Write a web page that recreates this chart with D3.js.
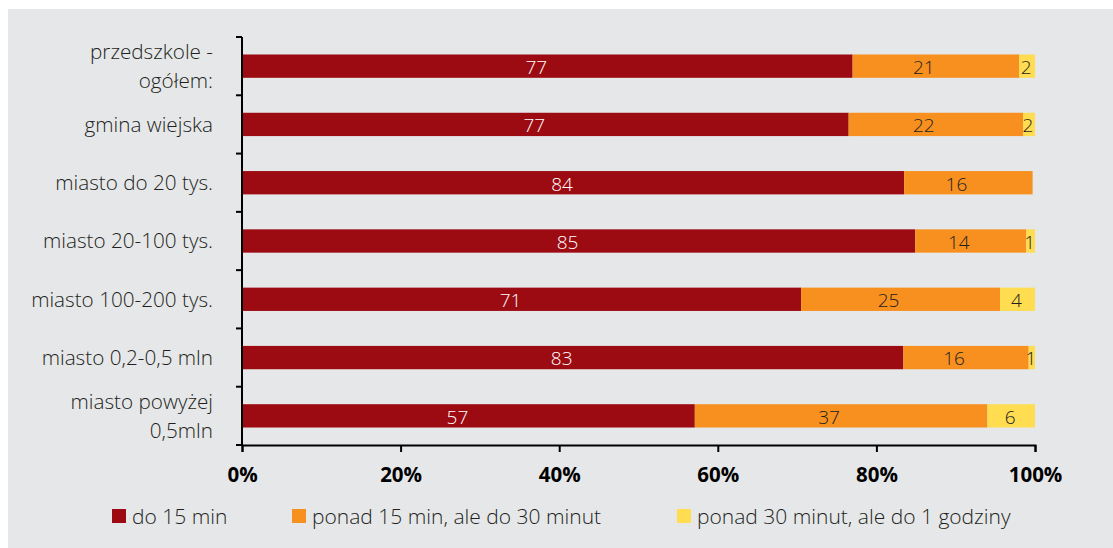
<!DOCTYPE html>
<html><head><meta charset="utf-8">
<script src="https://cdn.jsdelivr.net/npm/d3@7/dist/d3.min.js"></script>
<style>
body{margin:0;background:#fff;}
svg{display:block;font-family:"Open Sans","Noto Sans",sans-serif;}
</style></head>
<body><svg id="c" width="1113" height="548"></svg>
<script>
const categories = [
  ["przedszkole -","ogółem:"],
  ["gmina wiejska"],
  ["miasto do 20 tys."],
  ["miasto 20-100 tys."],
  ["miasto 100-200 tys."],
  ["miasto 0,2-0,5 mln"],
  ["miasto powyżej","0,5mln"]
];
const seriesNames = ["do 15 min","ponad 15 min, ale do 30 minut","ponad 30 minut, ale do 1 godziny"];
const do15 = [77.0, 76.5, 83.5, 84.9, 70.5, 83.4, 57.1];
const do30 = [21.0, 22.0, 16.2, 14.0, 25.1, 15.8, 36.9];
const do60 = [2.0, 1.5, 0, 1.1, 4.4, 0.8, 6.0];
const tickValues = [0, 20, 40, 60, 80, 100];
const colors = ["#9c0a12", "#f7901e", "#ffdc50"];
const labelColors = ["#ffffff", "#231f20", "#231f20"];
const labelShift = [-11, -12, -1];

const svg = d3.select("#c");
svg.append("rect").attr("x",8).attr("y",9).attr("width",1105).attr("height",539).attr("fill","#e6e7e9");

const x = d3.scaleLinear().domain([0,100]).range([242,1035]);
const y = d3.scaleBand().domain(d3.range(categories.length)).range([37,445]).paddingInner(0.6).paddingOuter(0.3);
const yb = d3.scaleBand().domain(d3.range(categories.length)).range([37,445]);

const seriesVals = [do15, do30, do60];
const rows = categories.map((c,i)=>({i, vals: seriesVals.map(s=>s[i])}));

const g = svg.append("g");
rows.forEach(r=>{
  let acc = 0;
  r.vals.forEach((v,k)=>{
    if (v<=0) return;
    const x0 = x(acc), x1 = x(acc+v);
    g.append("rect").attr("x",x0).attr("y",y(r.i)).attr("width",x1-x0).attr("height",y.bandwidth()).attr("fill",colors[k]);
    g.append("text").attr("x",(x0+x1)/2 + labelShift[k]).attr("y",y(r.i)+y.bandwidth()/2+1).attr("dy","0.36em")
      .attr("text-anchor","middle").attr("font-size",19).attr("font-weight",300).attr("fill",labelColors[k])
      .text(Math.round(v));
    acc += v;
  });
});

// y axis
const ya = svg.append("g");
ya.append("line").attr("x1",242).attr("x2",242).attr("y1",37).attr("y2",445).attr("stroke","#000").attr("stroke-width",2);
const bounds = d3.range(categories.length+1).map(i=> i<categories.length ? yb(i) : 445);
bounds.forEach(b=>ya.append("line").attr("x1",236).attr("x2",242).attr("y1",b).attr("y2",b).attr("stroke","#000").attr("stroke-width",2));
categories.forEach((c,i)=>{
  const cy = yb(i)+yb.bandwidth()/2;
  const t = ya.append("text").attr("text-anchor","end").attr("font-size",20.7).attr("fill","#231f20").attr("font-weight",300);
  const lh = 29;
  c.forEach((line,j)=>{
    t.append("tspan").attr("x",213).attr("y",cy + (j-(c.length-1)/2)*lh).attr("dy","0.36em").text(line);
  });
});

// x axis
const xa = svg.append("g").attr("transform","translate(0,445)")
  .call(d3.axisBottom(x).tickValues(tickValues).tickFormat(d=>d+"%").tickSize(7).tickPadding(15));
xa.select(".domain").attr("stroke","#000").attr("stroke-width",2);
xa.selectAll(".tick line").attr("stroke","#000").attr("stroke-width",2);
xa.selectAll(".tick text").attr("font-size",20.5).attr("font-weight","bold").attr("fill","#000").attr("font-family","\"Open Sans\",sans-serif");

// legend
const legX = [112, 292, 677];
seriesNames.forEach((n,k)=>{
  svg.append("rect").attr("x",legX[k]).attr("y",509).attr("width",14).attr("height",14).attr("fill",colors[k]);
  svg.append("text").attr("x",legX[k]+20).attr("y",516).attr("dy","0.36em").attr("font-size",21).attr("font-weight",300).attr("fill","#231f20").text(n);
});
</script></body></html>
